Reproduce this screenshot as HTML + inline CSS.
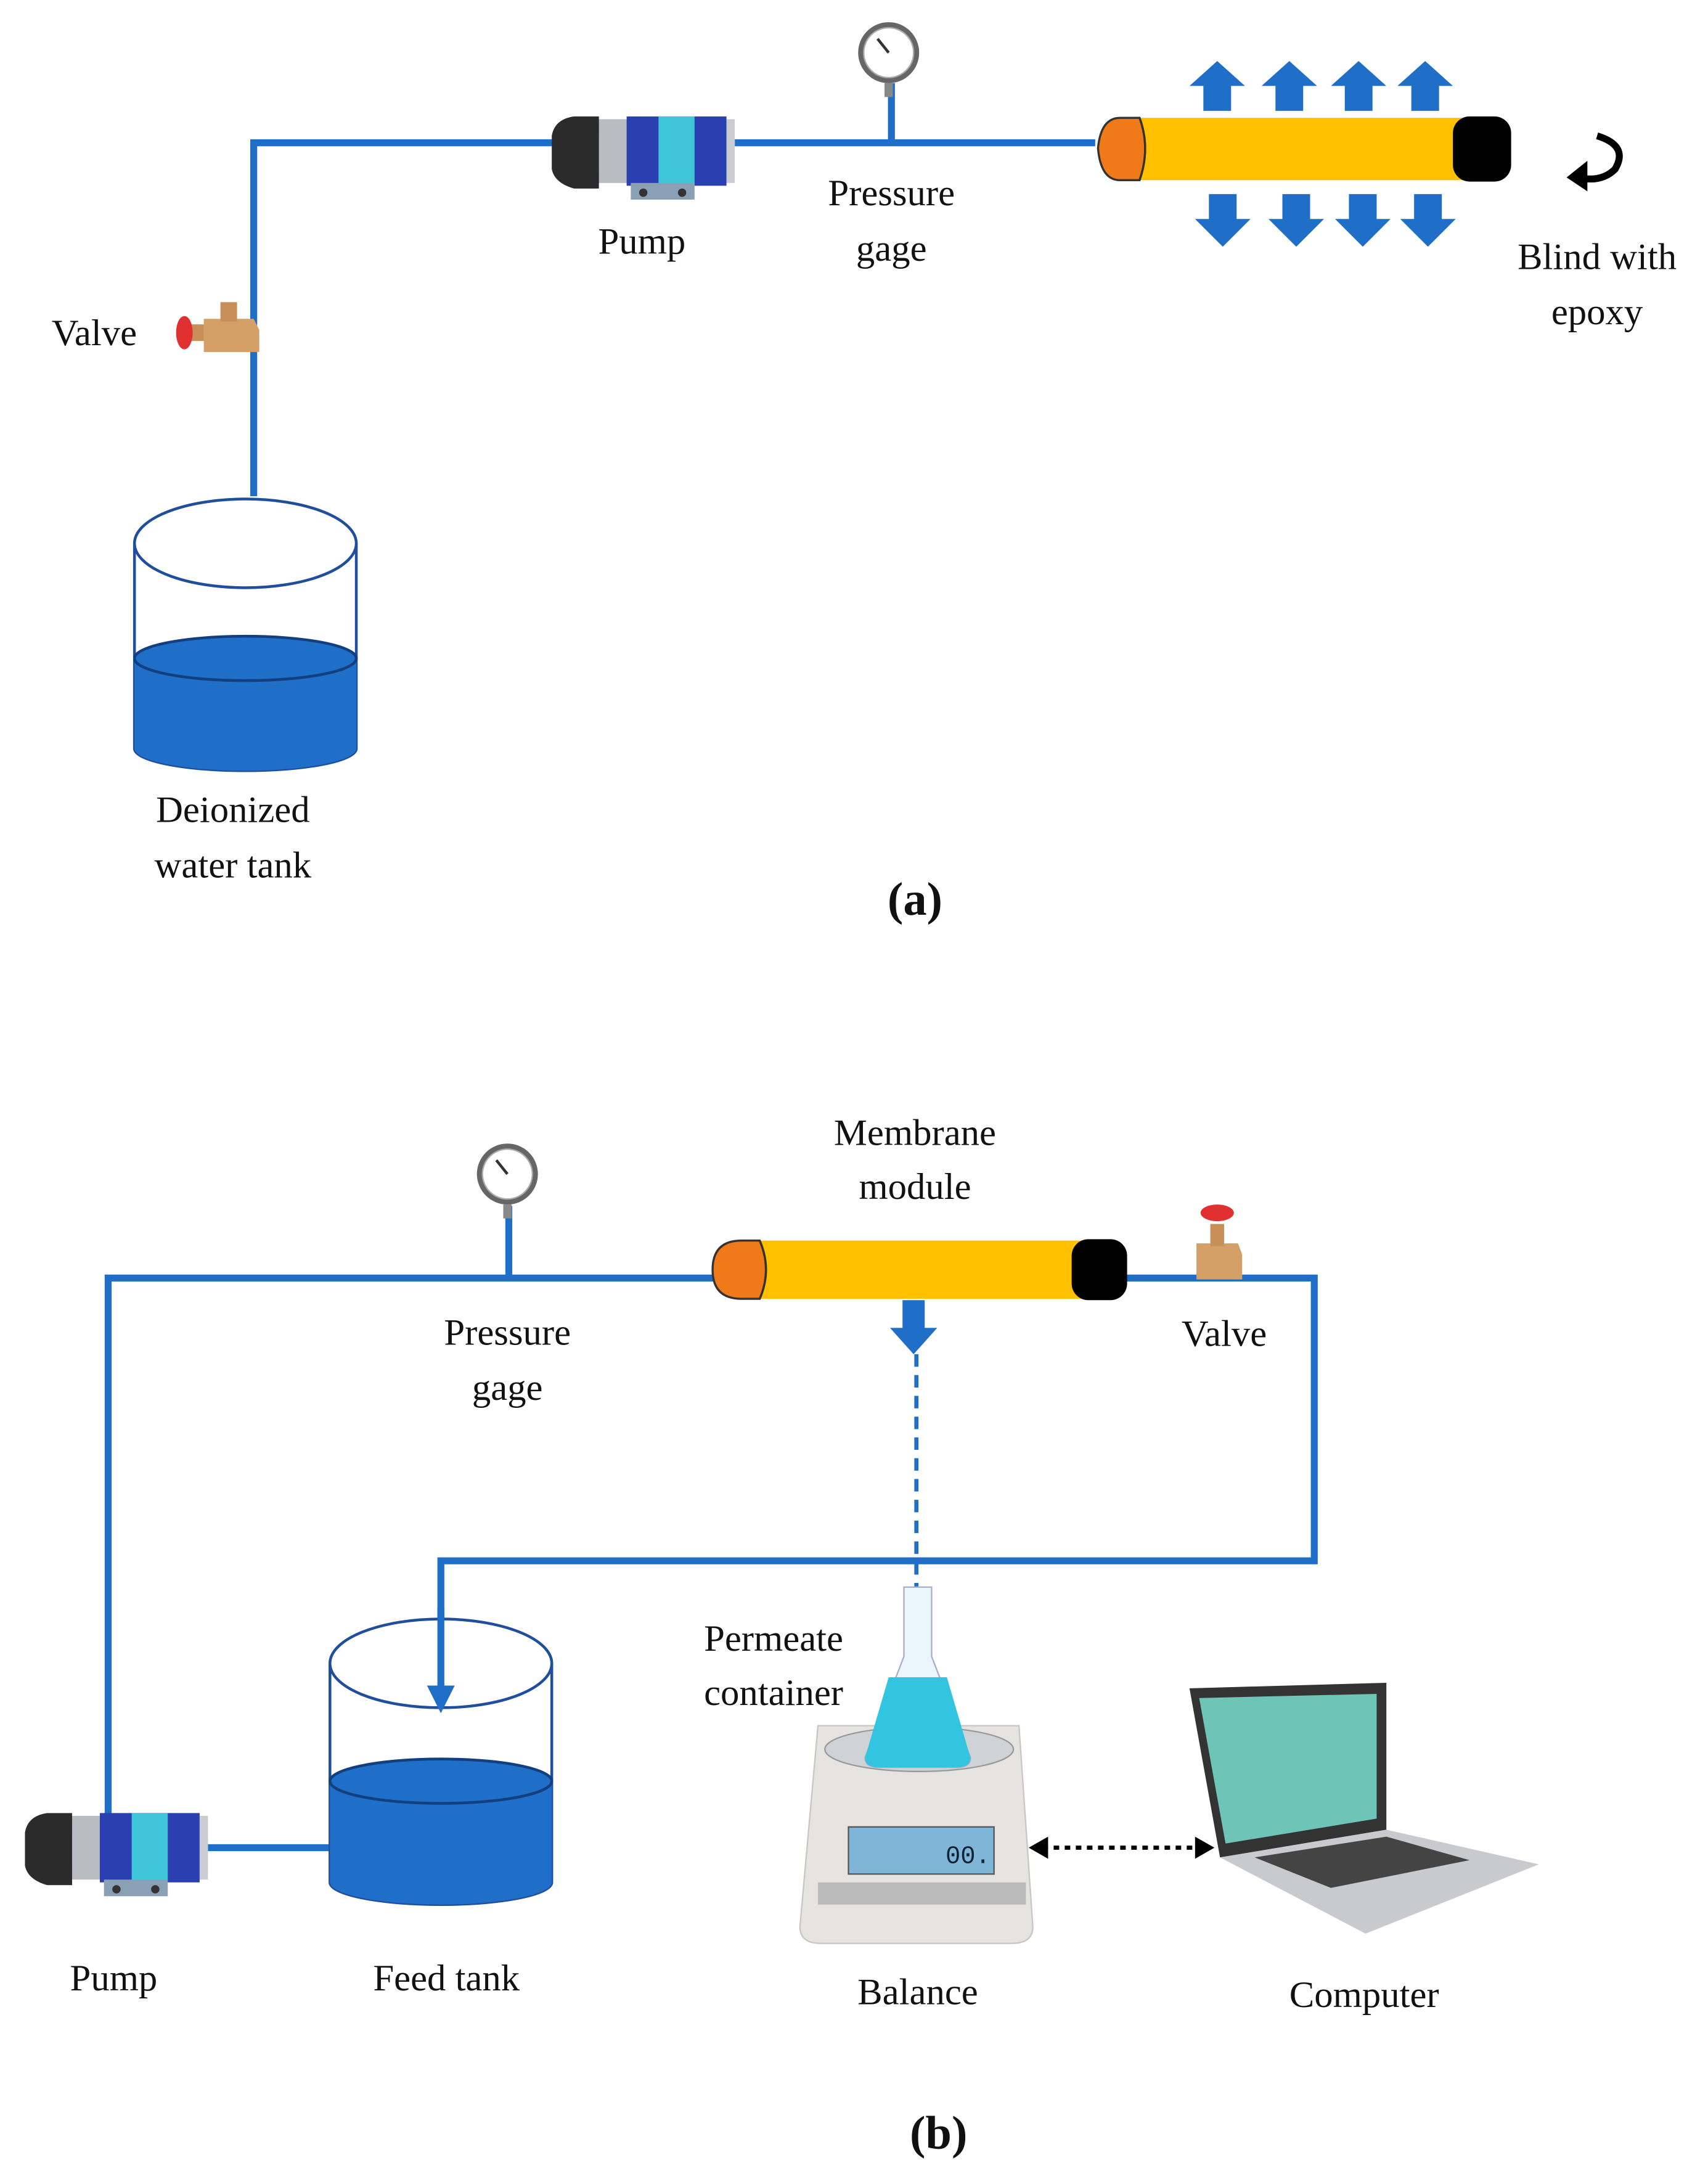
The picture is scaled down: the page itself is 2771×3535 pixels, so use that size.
<!DOCTYPE html>
<html><head><style>
html,body{margin:0;padding:0;background:#fff;}
svg{display:block;}
text{font-family:"Liberation Serif",serif;font-size:27px;fill:#111;}
</style></head><body>
<svg width="2771" height="3535" viewBox="0 0 1232 1572" preserveAspectRatio="none" xmlns="http://www.w3.org/2000/svg">
<defs>
<g id="pump">
  <rect x="20" y="6" width="112" height="46" rx="6" fill="#b9bcc2"/>
  <path d="M0,18 Q2,6 16,4 L34,4 L34,56 L16,56 Q2,52 0,42 Z" fill="#2b2b2b"/>
  <rect x="54" y="4" width="72" height="50" fill="#2a3fb0"/>
  <rect x="77" y="4" width="26" height="50" fill="#3ec6d8"/>
  <rect x="126" y="6" width="6" height="46" fill="#c9ccd2"/>
  <rect x="57" y="52" width="46" height="12" fill="#8aa0b4"/>
  <circle cx="66" cy="59" r="3" fill="#333"/><circle cx="94" cy="59" r="3" fill="#333"/>
</g>
<g id="gauge">
  <circle cx="0" cy="0" r="22" fill="#666"/>
  <circle cx="0" cy="0" r="18" fill="#fff" stroke="#aaa"/>
  <line x1="0" y1="0" x2="-8" y2="-10" stroke="#333" stroke-width="2"/>
  <rect x="-3" y="22" width="6" height="10" fill="#888"/>
</g>
<g id="valve">
  <path d="M-18,-10 L18,-10 L22,-2 L22,14 L-18,14 Z" fill="#d4a068"/>
  <rect x="-6" y="-22" width="12" height="14" fill="#c89058"/>
  <rect x="-28" y="-6" width="10" height="12" fill="#c89058"/>
  <ellipse cx="-32" cy="0" rx="6" ry="12" fill="#e03030"/>
</g>
<g id="up"><path d="M-10,0 L-10,-18 L-20,-18 L0,-36 L20,-18 L10,-18 L10,0 Z" fill="#1f6fc8"/></g>
<g id="down"><path d="M-10,0 L-10,18 L-20,18 L0,38 L20,18 L10,18 L10,0 Z" fill="#1f6fc8"/></g>
</defs>

<!-- (a) -->
<g fill="none" stroke="#1f6fc8" stroke-width="5">
  <path d="M183,358 L183,103 L400,103"/>
  <path d="M530,103 L790,103"/>
  <path d="M643,60 L643,103"/>
</g>
<use href="#pump" x="398" y="80"/>
<use href="#gauge" x="641" y="38"/>
<use href="#valve" x="165" y="240"/>
<rect x="808" y="85" width="250" height="45" fill="#ffc000"/>
<rect x="1048" y="84" width="42" height="47" rx="12" fill="#000"/>
<path d="M808,85 L822,85 Q830,107 822,130 L808,130 Q794,130 792,107 Q794,85 808,85 Z" fill="#f07a1a" stroke="#333" stroke-width="1.5"/>
<path d="M822,85 Q830,107 822,130" fill="none" stroke="#333" stroke-width="1.5"/>
<use href="#up" x="878" y="80"/><use href="#up" x="930" y="80"/><use href="#up" x="980" y="80"/><use href="#up" x="1028" y="80"/>
<use href="#down" x="882" y="140"/><use href="#down" x="935" y="140"/><use href="#down" x="983" y="140"/><use href="#down" x="1030" y="140"/>
<path d="M1152,98 Q1175,105 1165,122 Q1155,132 1138,128" fill="none" stroke="#000" stroke-width="5"/>
<path d="M1130,128 L1145,116 L1145,138 Z" fill="#000"/>
<path d="M97,392 L97,540 A80,16 0 0 0 257,540 L257,392" fill="none" stroke="#1f4e9c" stroke-width="2"/>
<path d="M97,475 L97,540 A80,16 0 0 0 257,540 L257,475 Z" fill="#1f6fc8"/>
<ellipse cx="177" cy="475" rx="80" ry="16" fill="#1f6fc8" stroke="#123f80" stroke-width="2"/>
<ellipse cx="177" cy="392" rx="80" ry="32" fill="#fff" stroke="#1f4e9c" stroke-width="2"/>
<text x="463" y="183" text-anchor="middle">Pump</text>
<text x="643" y="148" text-anchor="middle">Pressure</text>
<text x="643" y="188" text-anchor="middle">gage</text>
<text x="1152" y="194" text-anchor="middle">Blind with</text>
<text x="1152" y="234" text-anchor="middle">epoxy</text>
<text x="68" y="249" text-anchor="middle">Valve</text>
<text x="168" y="593" text-anchor="middle">Deionized</text>
<text x="168" y="633" text-anchor="middle">water tank</text>
<text x="660" y="660" text-anchor="middle" style="font-weight:bold;font-size:34px">(a)</text>

<!-- (b) -->
<g fill="none" stroke="#1f6fc8" stroke-width="5">
  <path d="M78,1330 L78,922 L515,922"/>
  <path d="M367,870 L367,922"/>
  <path d="M812,922 L948,922 L948,1126 L318,1126 L318,1170"/>
  <path d="M148,1333 L238,1333"/>
</g>
<use href="#gauge" x="366" y="847"/>
<!-- valve b (vertical, handle on top) -->
<g transform="translate(878,905)">
  <path d="M-15,-8 L15,-8 L18,0 L18,18 L-15,18 Z" fill="#d4a068"/>
  <rect x="-5" y="-22" width="10" height="16" fill="#c89058"/>
  <ellipse cx="0" cy="-30" rx="12" ry="6" fill="#e03030"/>
</g>
<rect x="535" y="895" width="250" height="42" fill="#ffc000"/>
<rect x="773" y="894" width="40" height="44" rx="12" fill="#000"/>
<path d="M535,895 L548,895 Q557,916 548,937 L535,937 Q514,937 514,916 Q514,895 535,895 Z" fill="#f07a1a" stroke="#333" stroke-width="1.5"/>
<path d="M548,895 Q557,916 548,937" fill="none" stroke="#333" stroke-width="1.5"/>
<path d="M651,938 L667,938 L667,958 L676,958 L659,977 L642,958 L651,958 Z" fill="#1f6fc8"/>
<line x1="661" y1="977" x2="661" y2="1180" stroke="#1f6fc8" stroke-width="3" stroke-dasharray="9,6"/>
<path d="M655,1176 L667,1176 L661,1190 Z" fill="#1f6fc8"/>
<!-- feed tank -->
<path d="M238,1200 L238,1358 A80,16 0 0 0 398,1358 L398,1200" fill="none" stroke="#1f4e9c" stroke-width="2"/>
<path d="M238,1285 L238,1358 A80,16 0 0 0 398,1358 L398,1285 Z" fill="#1f6fc8"/>
<ellipse cx="318" cy="1285" rx="80" ry="16" fill="#1f6fc8" stroke="#123f80" stroke-width="2"/>
<ellipse cx="318" cy="1200" rx="80" ry="32" fill="#fff" stroke="#1f4e9c" stroke-width="2"/>
<line x1="318" y1="1160" x2="318" y2="1218" stroke="#1f6fc8" stroke-width="5"/>
<path d="M308,1216 L328,1216 L318,1236 Z" fill="#1f6fc8"/>
<use href="#pump" x="18" y="1304"/>
<!-- balance -->
<path d="M590,1245 L735,1245 L745,1390 Q745,1402 730,1402 L592,1402 Q577,1402 577,1390 Z" fill="#e6e4e0" stroke="#c8c6c2"/>
<ellipse cx="663" cy="1262" rx="68" ry="16" fill="#cfd2d6" stroke="#999"/>
<rect x="612" y="1318" width="105" height="34" fill="#7fb6d8" stroke="#555"/>
<text x="682" y="1344" style="font-size:18px;font-family:'Liberation Mono',monospace;fill:#123">00.</text>
<rect x="590" y="1358" width="150" height="16" fill="#bbb"/>
<path d="M652,1145 L672,1145 L672,1195 L700,1268 Q700,1275 690,1275 L634,1275 Q624,1275 624,1268 L652,1195 Z" fill="#eaf6fb" stroke="#aac"/>
<path d="M641,1210 L683,1210 L700,1268 Q700,1275 690,1275 L634,1275 Q624,1275 624,1268 Z" fill="#33c4e0"/>
<!-- laptop -->
<path d="M858,1218 L1000,1214 L1000,1320 L880,1340 Z" fill="#333"/>
<path d="M865,1225 L993,1222 L993,1312 L884,1330 Z" fill="#6fc4b8"/>
<path d="M880,1340 L1000,1320 L1110,1345 L985,1395 Z" fill="#c8cacd"/>
<path d="M905,1340 L1000,1325 L1060,1342 L960,1362 Z" fill="#444"/>
<line x1="752" y1="1333" x2="866" y2="1333" stroke="#000" stroke-width="3" stroke-dasharray="4,4"/>
<path d="M742,1333 L756,1325 L756,1341 Z" fill="#000"/>
<path d="M876,1333 L862,1325 L862,1341 Z" fill="#000"/>
<text x="660" y="826" text-anchor="middle">Membrane</text>
<text x="660" y="865" text-anchor="middle">module</text>
<text x="366" y="970" text-anchor="middle">Pressure</text>
<text x="366" y="1010" text-anchor="middle">gage</text>
<text x="883" y="971" text-anchor="middle">Valve</text>
<text x="558" y="1191" text-anchor="middle">Permeate</text>
<text x="558" y="1230" text-anchor="middle">container</text>
<text x="82" y="1436" text-anchor="middle">Pump</text>
<text x="322" y="1436" text-anchor="middle">Feed tank</text>
<text x="662" y="1446" text-anchor="middle">Balance</text>
<text x="984" y="1448" text-anchor="middle">Computer</text>
<text x="677" y="1550" text-anchor="middle" style="font-weight:bold;font-size:34px">(b)</text>
</svg>
</body></html>
